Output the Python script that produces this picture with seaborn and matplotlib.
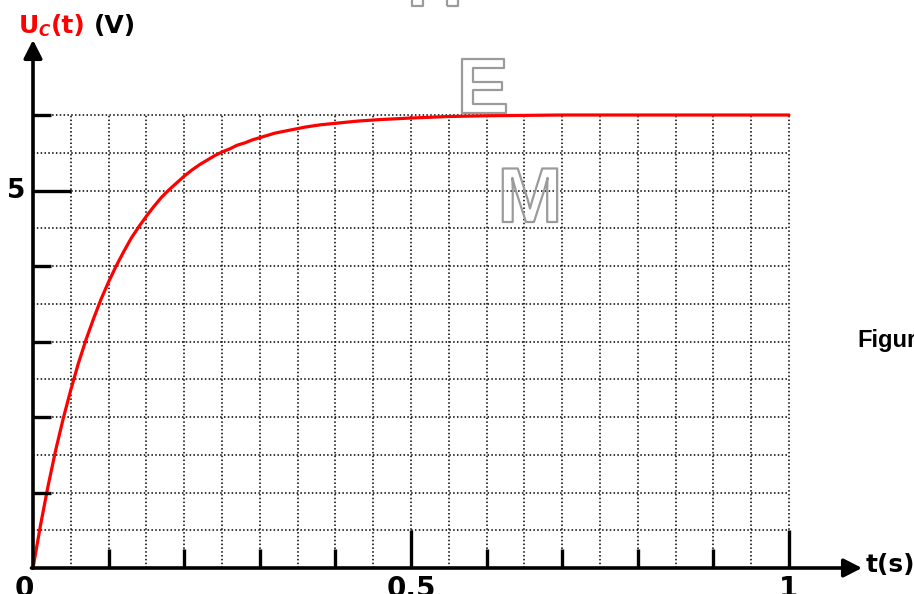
import matplotlib
matplotlib.use("Agg")
import matplotlib.pyplot as plt
import matplotlib.patheffects as pe
import numpy as np
import pandas as pd
import seaborn as sns

# Charging voltage of the capacitor, U_C(t), read at successive instants
t_s = [0.0, 0.01, 0.02, 0.03, 0.04, 0.05, 0.06, 0.07, 0.08, 0.09, 0.10,
       0.11, 0.12, 0.13, 0.14, 0.15, 0.16, 0.17, 0.18, 0.19, 0.20,
       0.21, 0.22, 0.23, 0.24, 0.25, 0.26, 0.27, 0.28, 0.29, 0.30,
       0.32, 0.34, 0.36, 0.38, 0.40, 0.43, 0.46, 0.50,
       0.55, 0.60, 0.70, 0.80, 0.90, 1.00]
uc_v = [0.00, 0.57, 1.09, 1.56, 1.98, 2.36, 2.71, 3.02, 3.30, 3.56, 3.79,
        4.00, 4.19, 4.37, 4.52, 4.66, 4.79, 4.91, 5.01, 5.10, 5.19,
        5.27, 5.34, 5.40, 5.46, 5.51, 5.55, 5.60, 5.63, 5.67, 5.70,
        5.76, 5.80, 5.84, 5.87, 5.89, 5.92, 5.94, 5.96,
        5.98, 5.99, 6.00, 6.00, 6.00, 6.00]

# Axis graduations
xtick_long = [0.5, 1.0]
xtick_short = [0.1, 0.2, 0.3, 0.4, 0.6, 0.7, 0.8, 0.9]
ytick_long = [5]
ytick_short = [1, 2, 3, 4, 6]
xtick_labels = {0.0: "0", 0.5: "0,5", 1.0: "1"}
ytick_labels = {5: "5"}

W, H = 914, 594
PX_T = 756.0   # pixels per second
PX_V = 75.5    # pixels per volt
X0, Y0 = 33, 568

sns.set_style("white")
fig = plt.figure(figsize=(W / 100, H / 100), dpi=100)
ax = fig.add_axes([0, 0, 1, 1])
ax.set_xlim(-X0 / PX_T, (W - X0) / PX_T)
ax.set_ylim(-(H - Y0) / PX_V, Y0 / PX_V)
ax.axis("off")

bold = dict(family="DejaVu Sans", fontweight="bold")

# dotted millimetre-style grid
dot = dict(color="black", linewidth=1.1, linestyle=(0, (1, 1.5)), zorder=1)
for tv in np.arange(1, 21) * 0.05:
    ax.plot([tv, tv], [0, 6], **dot)
for uv in np.arange(1, 13) * 0.5:
    ax.plot([0, 1], [uv, uv], **dot)

# U_C(t) curve
df = pd.DataFrame({"t": t_s, "uc": uc_v})
sns.lineplot(data=df, x="t", y="uc", color="#ff0000", linewidth=2.3,
             estimator=None, sort=False, ax=ax, zorder=4)
ax.set_xlabel("")
ax.set_ylabel("")
ax.axis("off")

# axes with arrows
arrow = dict(arrowstyle="-|>,head_length=0.55,head_width=0.28", color="black",
             lw=2.6, shrinkA=0, shrinkB=0, mutation_scale=20)
ax.annotate("", xy=(0, (Y0 - 40) / PX_V), xytext=(0, 0), arrowprops=arrow, zorder=5)
ax.annotate("", xy=((862 - X0) / PX_T, 0), xytext=(-0.002, 0), arrowprops=arrow, zorder=5)

# tick marks
tk = dict(color="black", linewidth=2.4, solid_capstyle="butt", zorder=5)
for tv in xtick_long:
    ax.plot([tv, tv], [0, 0.5], **tk)
for tv in xtick_short:
    ax.plot([tv, tv], [0, 19 / PX_V], **tk)
for uv in ytick_long:
    ax.plot([0, 0.05], [uv, uv], **tk)
for uv in ytick_short:
    ax.plot([0, 18 / PX_T], [uv, uv], **tk)

# tick labels (bottom row runs off the lower edge)
for tv, lab in xtick_labels.items():
    dx = -6 if tv == 0 else 0
    ax.annotate(lab, xy=(tv, 0), xytext=(dx, -5), textcoords="offset points",
                ha="center", va="top", fontsize=20, color="black", **bold)
for uv, lab in ytick_labels.items():
    ax.annotate(lab, xy=(0, uv), xytext=(-12, 0), textcoords="offset points",
                ha="center", va="center", fontsize=19, color="black", **bold)

def ftxt(x, y, s, **kw):
    fig.text(x / W, 1 - y / H, s, **kw)

# axis titles
ftxt(19, 33, "U", color="#ff0000", fontsize=18, ha="left", va="baseline", **bold)
ftxt(38, 36, "C", color="#ff0000", fontsize=11, ha="left", va="baseline",
     family="DejaVu Sans", fontweight="bold", style="italic")
ftxt(51, 33, "(t)", color="#ff0000", fontsize=18, ha="left", va="baseline", **bold)
ftxt(94, 33, "(V)", color="black", fontsize=18, ha="left", va="baseline", **bold)
ftxt(866, 572, "t(s)", color="black", fontsize=18, ha="left", va="baseline", **bold)
ftxt(857, 347, "Figure", color="black", fontsize=17, ha="left", va="baseline",
     family="Liberation Sans", fontweight="bold")

# outlined letters
outline = [pe.Stroke(linewidth=1.6, foreground="#9b9b9b")]
for x, y, s in [(435, 6, "H"), (483, 113, "E"), (530, 222, "M")]:
    ftxt(x, y, s, color="none", fontsize=56, ha="center", va="baseline",
         family="Liberation Sans", fontweight="bold", path_effects=outline, zorder=6)

fig.savefig("out.png", dpi=100)
